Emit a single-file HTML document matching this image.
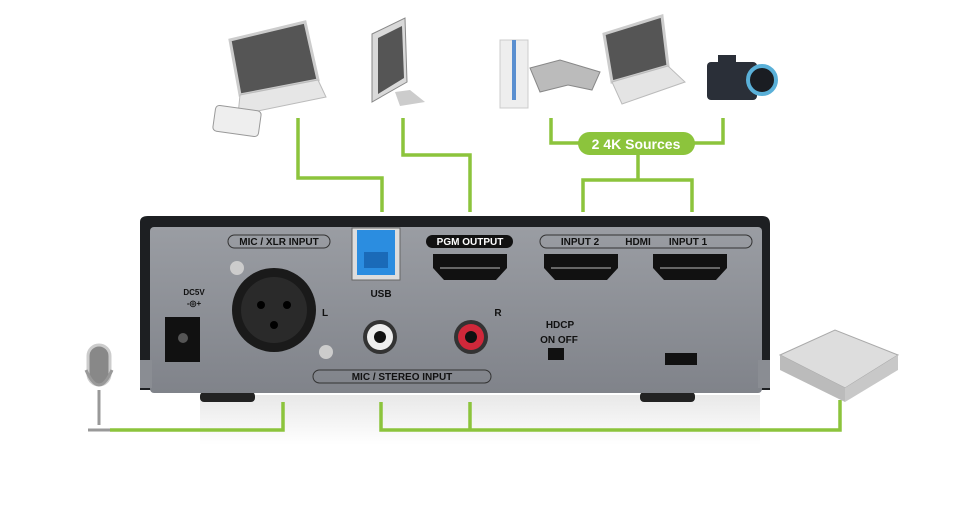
<!DOCTYPE html>
<html><head><style>
body{margin:0;width:960px;height:500px;background:#fff;overflow:hidden;font-family:"Liberation Sans",sans-serif}
svg text{font-family:"Liberation Sans",sans-serif;font-weight:bold}
</style></head><body>
<svg width="960" height="500" viewBox="0 0 960 500">
<defs>
<linearGradient id="pan" x1="0" y1="0" x2="0" y2="1"><stop offset="0" stop-color="#9a9da3"/><stop offset="1" stop-color="#80838a"/></linearGradient>
<linearGradient id="ref" x1="0" y1="0" x2="0" y2="1"><stop offset="0" stop-color="#e8e8e8"/><stop offset="1" stop-color="#fff"/></linearGradient>
</defs>
<rect x="200" y="395" width="560" height="50" fill="url(#ref)"/>
<!-- device -->
<rect x="200" y="392" width="55" height="10" rx="4" fill="#222"/>
<rect x="640" y="392" width="55" height="10" rx="4" fill="#222"/>
<path d="M140 222Q140 216 148 216H762Q770 216 770 224V390H140Z" fill="#1d1f22"/>
<rect x="150" y="227" width="612" height="166" rx="4" fill="url(#pan)"/>
<rect x="140" y="360" width="12" height="28" fill="#8a8d93"/>
<rect x="758" y="360" width="12" height="28" fill="#8a8d93"/>
<g fill="none" stroke="#8cc43c" stroke-width="3.5">
<path d="M298 118V178H382V212"/>
<path d="M403 118V155H470V212"/>
<path d="M551 118V143H723V118"/>
<path d="M638 155V180M583 212V180H692V212"/>
<path d="M110 430H283V402"/>
<path d="M381 402V430H840V400M470 402V430"/>
</g>
<rect x="578" y="132" width="117" height="23" rx="11.5" fill="#8cc43c"/>
<text x="636" y="149" font-size="14" fill="#fff" text-anchor="middle">2 4K Sources</text>
<g font-size="10" fill="#111" text-anchor="middle">
<rect x="228" y="235" width="102" height="13" rx="6.5" fill="none" stroke="#333"/>
<text x="279" y="245">MIC / XLR INPUT</text>
<rect x="426" y="235" width="87" height="13" rx="6.5" fill="#111"/>
<text x="470" y="245" fill="#fff">PGM OUTPUT</text>
<rect x="540" y="235" width="212" height="13" rx="6.5" fill="none" stroke="#333"/>
<text x="580" y="245">INPUT 2</text><text x="638" y="245">HDMI</text><text x="688" y="245">INPUT 1</text>
<text x="381" y="297">USB</text>
<text x="325" y="316">L</text><text x="498" y="316">R</text>
<text x="560" y="328">HDCP</text><text x="559" y="343">ON OFF</text>
<rect x="313" y="370" width="178" height="13" rx="6.5" fill="none" stroke="#333"/>
<text x="402" y="380">MIC / STEREO INPUT</text>
<text x="194" y="295" font-size="8">DC5V</text>
<text x="194" y="306" font-size="8">-◎+</text>
</g>
<rect x="165" y="317" width="35" height="45" fill="#111"/><circle cx="183" cy="338" r="5" fill="#555"/>
<circle cx="274" cy="310" r="42" fill="#1a1a1a"/><circle cx="274" cy="310" r="33" fill="#2a2a2a"/>
<circle cx="261" cy="305" r="4" fill="#000"/><circle cx="287" cy="305" r="4" fill="#000"/><circle cx="274" cy="325" r="4" fill="#000"/>
<circle cx="237" cy="268" r="7" fill="#ccc"/><circle cx="326" cy="352" r="7" fill="#ccc"/>
<rect x="352" y="228" width="48" height="52" fill="#ddd" stroke="#666"/><rect x="357" y="230" width="38" height="45" fill="#2b8de0"/>
<rect x="364" y="252" width="24" height="16" fill="#1a6ab8"/>
<g fill="#111"><path d="M433 254H507V268L496 280H444L433 268Z"/><path d="M544 254H618V268L607 280H555L544 268Z"/><path d="M653 254H727V268L716 280H664L653 268Z"/></g>
<g fill="none" stroke="#666" stroke-width="2"><path d="M440 268H500M551 268H611M660 268H720"/></g>
<circle cx="380" cy="337" r="17" fill="#333"/><circle cx="380" cy="337" r="13" fill="#eee"/><circle cx="380" cy="337" r="6" fill="#111"/>
<circle cx="471" cy="337" r="17" fill="#333"/><circle cx="471" cy="337" r="13" fill="#d0283a"/><circle cx="471" cy="337" r="6" fill="#111"/>
<rect x="548" y="348" width="16" height="12" fill="#111"/>
<rect x="665" y="353" width="32" height="12" fill="#111"/>
<!-- icons -->
<path d="M230 40L305 22L318 80L240 95Z" fill="#555" stroke="#ccc" stroke-width="3"/>
<path d="M240 95L318 80L326 97L238 115Z" fill="#e6e6e6" stroke="#bbb"/>
<rect x="214" y="108" width="46" height="26" rx="4" fill="#eee" stroke="#999" transform="rotate(8 237 121)"/>
<path d="M372 34L405 18L407 82L372 102Z" fill="#d9d9d9" stroke="#888"/><path d="M378 38L402 26L404 78L378 94Z" fill="#555"/>
<path d="M395 92L410 90L425 102L400 106Z" fill="#ccc"/>
<rect x="500" y="40" width="28" height="68" fill="#eee" stroke="#ccc"/><rect x="512" y="40" width="4" height="60" fill="#5a8fd0"/>
<path d="M530 68L560 60L600 72L592 90L568 85L540 92Z" fill="#bbb" stroke="#888"/>
<path d="M604 34L662 16L668 66L612 82Z" fill="#555" stroke="#ccc" stroke-width="3"/>
<path d="M612 82L668 66L685 82L622 104Z" fill="#e4e4e4" stroke="#bbb"/>
<rect x="707" y="62" width="50" height="38" rx="4" fill="#2a2f38"/><rect x="718" y="55" width="18" height="10" fill="#2a2f38"/>
<circle cx="762" cy="80" r="14" fill="#1a1d22" stroke="#5ab0d8" stroke-width="4"/>
<path d="M780 355L835 330L898 355L845 388Z" fill="#ddd" stroke="#aaa"/><path d="M780 355L845 388V402L780 370Z" fill="#bbb"/><path d="M845 388L898 355V370L845 402Z" fill="#c8c8c8"/>
<rect x="88" y="345" width="22" height="40" rx="11" fill="#888" stroke="#ccc" stroke-width="3"/>
<path d="M86 370Q99 400 112 370M99 390V425M88 430H110" fill="none" stroke="#999" stroke-width="3"/>
</svg>
</body></html>
